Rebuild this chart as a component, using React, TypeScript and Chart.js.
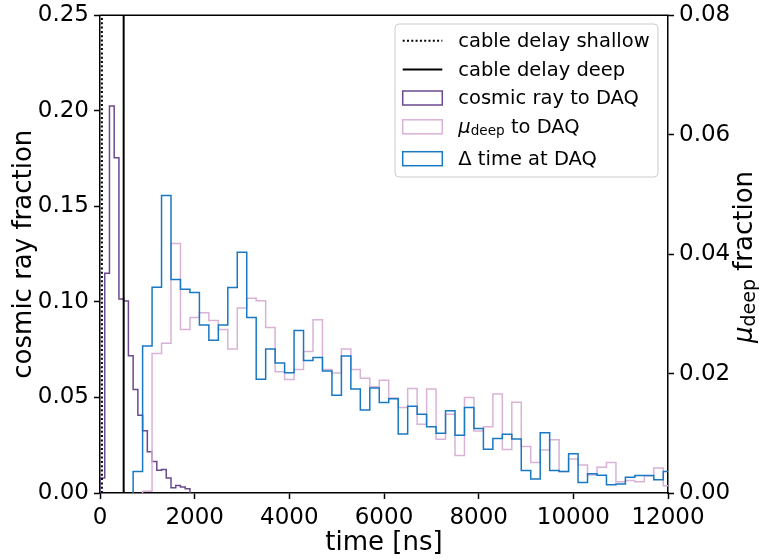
import React, { useEffect, useRef } from "react";
import { Chart, registerables } from "chart.js";

Chart.register(...registerables);

// ---------------- data ----------------
const X_TICKS = [0, 2000, 4000, 6000, 8000, 10000, 12000];
const Y_LEFT_TICKS = [0, 0.05, 0.1, 0.15, 0.2, 0.25];
const Y_RIGHT_TICKS = [0, 0.02, 0.04, 0.06, 0.08];

const CABLE_DELAY_SHALLOW = 40; // ns
const CABLE_DELAY_DEEP = 500; // ns

// cosmic ray to DAQ: 100 ns bins starting at 0 ns (left axis)
const COSMIC_START = 0;
const COSMIC_WIDTH = 100;
const COSMIC = [
  0.0078, 0.115, 0.2025, 0.1755, 0.1015, 0.1005, 0.0718, 0.0542, 0.0407, 0.0326,
  0.0216, 0.0165, 0.0119, 0.0123, 0.0079, 0.0028, 0.0039, 0.0031, 0.0022,
];

// Δ time at DAQ: 200 ns bins starting at 700 ns (left axis)
const DELTA_START = 700;
const DELTA_WIDTH = 200;
const DELTA_T = [
  0.0113, 0.077, 0.1077, 0.1557, 0.1117, 0.1067, 0.105, 0.0879, 0.0799, 0.0879,
  0.1076, 0.126, 0.0918, 0.0596, 0.0754, 0.0681, 0.0629, 0.085, 0.0693, 0.0709,
  0.0639, 0.0511, 0.0717, 0.0544, 0.0434, 0.0549, 0.0474, 0.0493, 0.0309, 0.0454,
  0.0412, 0.0347, 0.0313, 0.0431, 0.0302, 0.0448, 0.0337, 0.0229, 0.0285, 0.0308,
  0.0282, 0.0118, 0.0073, 0.0316, 0.0118, 0.0113, 0.0205, 0.0055, 0.0101, 0.0093,
  0.0043, 0.0047, 0.0082, 0.0091, 0.0091, 0.0069, 0.0112,
];

// μ_deep to DAQ: 200 ns bins starting at 900 ns (right axis)
const MU_START = 900;
const MU_WIDTH = 200;
const MU_DEEP = [
  0.0003, 0.02335, 0.0251, 0.0418, 0.0274, 0.0294, 0.0302, 0.0289, 0.0274, 0.0241,
  0.031, 0.0326, 0.0322, 0.0277, 0.0203, 0.019, 0.0207, 0.0237, 0.029, 0.0207,
  0.0201, 0.0241, 0.0207, 0.0192, 0.0178, 0.0189, 0.0159, 0.0143, 0.0175, 0.0115,
  0.0174, 0.009, 0.0132, 0.0063, 0.016, 0.0104, 0.0111, 0.0166, 0.0073, 0.0152,
  0.0078, 0.0051, 0.0072, 0.0089, 0.0036, 0.0057, 0.0047, 0.003, 0.0043, 0.0051,
  0.0019, 0.0021, 0.0019, 0.0029, 0.0042, 0.0012,
];

// ---------------- styles ----------------
const FONT = "DejaVu Sans";
const C_PURPLE = "#6a4a8c";
const C_PINK = "#d9b2d6";
const C_BLUE = "#1878c2";

function stepOutline(start: number, width: number, values: number[]) {
  const pts: { x: number; y: number }[] = [{ x: start, y: 0 }];
  values.forEach((v, i) => {
    pts.push({ x: start + i * width, y: v });
    pts.push({ x: start + (i + 1) * width, y: v });
  });
  pts.push({ x: start + values.length * width, y: 0 });
  return pts;
}

const overlayPlugin = {
  id: "overlay",
  afterDraw(chart: any) {
    const ctx = chart.ctx as CanvasRenderingContext2D;
    const area = chart.chartArea;
    ctx.save();
    // top spine
    ctx.strokeStyle = "#000";
    ctx.lineWidth = 1.5;
    ctx.beginPath();
    ctx.moveTo(area.left - 0.75, area.top);
    ctx.lineTo(area.right + 0.75, area.top);
    ctx.stroke();

    // right axis title with subscript
    ctx.fillStyle = "#000";
    ctx.textBaseline = "alphabetic";
    ctx.textAlign = "left";
    const fMu = `italic 26px "${FONT}"`;
    const fSub = `19px "${FONT}"`;
    const fMain = `26px "${FONT}"`;
    ctx.font = fMu;
    const wMu = ctx.measureText("\u03bc").width;
    ctx.font = fSub;
    const wSub = ctx.measureText("deep").width;
    ctx.font = fMain;
    const wRest = ctx.measureText(" fraction").width;
    const total = wMu + wSub + wRest;
    ctx.save();
    ctx.translate(752, 257);
    ctx.rotate(-Math.PI / 2);
    const x0 = -total / 2;
    ctx.font = fMu;
    ctx.fillText("\u03bc", x0, 0);
    ctx.font = fSub;
    ctx.fillText("deep", x0 + wMu, 2.5);
    ctx.font = fMain;
    ctx.fillText(" fraction", x0 + wMu + wSub, 0);
    ctx.restore();

    // legend
    const lx = 395, ly = 24, lw = 263, lh = 153;
    ctx.beginPath();
    (ctx as any).roundRect(lx, ly, lw, lh, 4);
    ctx.fillStyle = "rgba(255,255,255,0.8)";
    ctx.fill();
    ctx.strokeStyle = "#cccccc";
    ctx.lineWidth = 1;
    ctx.stroke();

    const hx0 = 402.7, hx1 = 442.3, tx = 458.3;
    const centers = [40.8, 69.4, 98, 126.8, 158.7];
    const baselines = [47.2, 75.8, 104.4, 133.2, 165.1];
    // row 1: dotted
    ctx.strokeStyle = "#000";
    ctx.lineWidth = 2;
    ctx.setLineDash([2, 2.3]);
    ctx.beginPath();
    ctx.moveTo(hx0, centers[0]);
    ctx.lineTo(hx1, centers[0]);
    ctx.stroke();
    ctx.setLineDash([]);
    // row 2: solid
    ctx.beginPath();
    ctx.moveTo(hx0, centers[1]);
    ctx.lineTo(hx1, centers[1]);
    ctx.stroke();
    // rows 3-5: boxes
    const boxColors = [C_PURPLE, C_PINK, C_BLUE];
    boxColors.forEach((c, i) => {
      ctx.strokeStyle = c;
      ctx.lineWidth = 1.5;
      ctx.strokeRect(hx0, centers[i + 2] - 7, hx1 - hx0, 14);
    });
    ctx.fillStyle = "#000";
    const fLeg = `19.5px "${FONT}"`;
    ctx.font = fLeg;
    ctx.fillText("cable delay shallow", tx, baselines[0]);
    ctx.fillText("cable delay deep", tx, baselines[1]);
    ctx.fillText("cosmic ray to DAQ", tx, baselines[2]);
    // mu_deep row
    ctx.font = `italic 19.5px "${FONT}"`;
    ctx.fillText("\u03bc", tx, baselines[3]);
    const wm = ctx.measureText("\u03bc").width;
    ctx.font = `13.6px "${FONT}"`;
    ctx.fillText("deep", tx + wm, baselines[3] + 2);
    const wd = ctx.measureText("deep").width;
    ctx.font = fLeg;
    ctx.fillText(" to DAQ", tx + wm + wd, baselines[3]);
    ctx.fillText("\u0394 time at DAQ", tx, baselines[4]);
    ctx.restore();
  },
};

export default function App() {
  const ref = useRef<HTMLCanvasElement | null>(null);

  useEffect(() => {
    if (!ref.current) return;
    Chart.defaults.font.family = FONT;
    const tickFontX = { family: FONT, size: 23 };
    const tickFontY = { family: FONT, size: 23, lineHeight: 0.9 };
    const titleFont = { family: FONT, size: 26 };
    const gridTicks = {
      display: true,
      drawOnChartArea: false,
      drawTicks: true,
      tickLength: 6,
      tickWidth: 1.5,
      tickColor: "#000",
    };
    const border = { display: true, color: "#000", width: 1.5 };

    const chart = new Chart(ref.current, {
      type: "line",
      data: {
        datasets: [
          {
            label: "cable delay shallow",
            data: [
              { x: CABLE_DELAY_SHALLOW, y: 0 },
              { x: CABLE_DELAY_SHALLOW, y: 0.25 },
            ],
            borderColor: "#000",
            borderWidth: 2,
            borderDash: [2, 2.3],
            pointRadius: 0,
            yAxisID: "y",
            order: 0,
          },
          {
            label: "cable delay deep",
            data: [
              { x: CABLE_DELAY_DEEP, y: 0 },
              { x: CABLE_DELAY_DEEP, y: 0.25 },
            ],
            borderColor: "#000",
            borderWidth: 2,
            pointRadius: 0,
            yAxisID: "y",
            order: 0,
          },
          {
            label: "cosmic ray to DAQ",
            data: stepOutline(COSMIC_START, COSMIC_WIDTH, COSMIC),
            borderColor: C_PURPLE,
            borderWidth: 1.5,
            pointRadius: 0,
            yAxisID: "y",
            order: 3,
          },
          {
            label: "mu_deep to DAQ",
            data: stepOutline(MU_START, MU_WIDTH, MU_DEEP),
            borderColor: C_PINK,
            borderWidth: 1.5,
            pointRadius: 0,
            yAxisID: "y2",
            order: 2,
          },
          {
            label: "Δ time at DAQ",
            data: stepOutline(DELTA_START, DELTA_WIDTH, DELTA_T),
            borderColor: C_BLUE,
            borderWidth: 1.5,
            pointRadius: 0,
            yAxisID: "y",
            order: 1,
          },
        ] as any,
      },
      options: {
        responsive: false,
        animation: false,
        layout: { padding: { top: 14, right: 0, bottom: 0, left: 0 } },
        elements: { line: { tension: 0, fill: false, borderJoinStyle: "miter" } },
        plugins: {
          legend: { display: false },
          tooltip: { enabled: false },
        },
        scales: {
          x: {
            type: "linear",
            min: 0,
            max: 12000,
            afterBuildTicks: (s: any) => {
              s.ticks = X_TICKS.map((v) => ({ value: v }));
            },
            afterFit: (s: any) => {
              s.height = 66;
            },
            ticks: {
              font: tickFontX,
              color: "#000",
              padding: 5,
              maxRotation: 0,
              autoSkip: false,
              callback: (v: any) => String(v),
            },
            grid: gridTicks,
            border,
            title: {
              display: true,
              text: "time [ns]",
              font: titleFont,
              color: "#000",
              padding: { top: 0, bottom: 0 },
            },
          },
          y: {
            type: "linear",
            position: "left",
            min: 0,
            max: 0.25,
            afterBuildTicks: (s: any) => {
              s.ticks = Y_LEFT_TICKS.map((v) => ({ value: v }));
            },
            afterFit: (s: any) => {
              s.width = 100;
            },
            ticks: {
              font: tickFontY,
              color: "#000",
              padding: 5,
              callback: (v: any) => Number(v).toFixed(2),
            },
            grid: gridTicks,
            border,
            title: {
              display: true,
              text: "cosmic ray fraction",
              font: titleFont,
              color: "#000",
              padding: { top: 9, bottom: 0 },
            },
          },
          y2: {
            type: "linear",
            position: "right",
            min: 0,
            max: 0.08,
            afterBuildTicks: (s: any) => {
              s.ticks = Y_RIGHT_TICKS.map((v) => ({ value: v }));
            },
            afterFit: (s: any) => {
              s.width = 91;
            },
            ticks: {
              font: tickFontY,
              color: "#000",
              padding: 5,
              callback: (v: any) => Number(v).toFixed(2),
            },
            grid: gridTicks,
            border,
          },
        },
      } as any,
      plugins: [overlayPlugin],
    });
    return () => chart.destroy();
  }, []);

  return (
    <div
      style={{
        position: "fixed",
        left: 0,
        top: 0,
        width: 759,
        height: 559,
        background: "#fff",
      }}
    >
      <canvas ref={ref} width={759} height={559} style={{ display: "block" }} />
    </div>
  );
}
